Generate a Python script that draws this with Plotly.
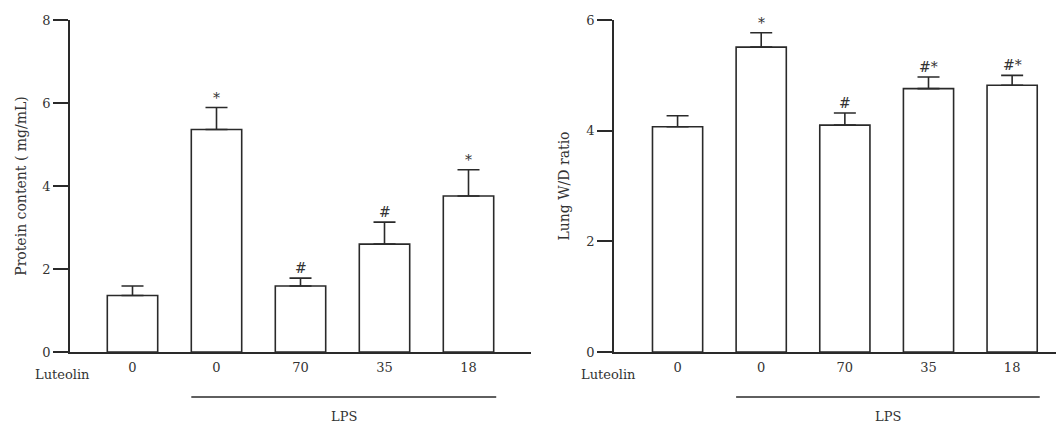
import plotly.graph_objects as go

groups = ["0", "0", "70", "35", "18"]
protein = [1.36, 5.36, 1.59, 2.60, 3.76]
protein_err = [0.23, 0.53, 0.19, 0.53, 0.63]
protein_marks = ["", "*", "#", "#", "*"]
wd_ratio = [4.07, 5.51, 4.10, 4.76, 4.82]
wd_err = [0.20, 0.26, 0.22, 0.21, 0.18]
wd_marks = ["", "*", "#", "#*", "#*"]

FONT = "DejaVu Serif"
INK = "#2a2a2a"
TXT = "#333333"
FS = 14
OFF = 8  # page body margin
W, H = 1064 - OFF, 425 - OFF
ML, MR, MT = 70 - OFF, 0, 20 - OFF
ph = 332
MB = H - MT - ph
pw = W - ML - MR
BOTTOM = 352  # page y of plot bottom

xs = list(range(len(groups)))

fig = go.Figure()

def add_panel(vals, errs, xa, ya):
    fig.add_trace(go.Bar(
        x=xs, y=vals, width=0.6,
        marker=dict(color="white", line=dict(color=INK, width=1.6)),
        error_y=dict(type="data", array=errs, arrayminus=[0] * len(errs),
                     symmetric=False, color=INK, thickness=1.6, width=11),
        xaxis=xa, yaxis=ya, showlegend=False, hoverinfo="skip",
    ))

add_panel(protein, protein_err, "x", "y")
add_panel(wd_ratio, wd_err, "x2", "y2")

left_end = (531 - 70) / pw
right_start = (614 - 70) / pw
x1_range = [-0.744, 4.744]
x2_range = [-0.76, 4.62]

axis_common = dict(showline=True, linecolor=INK, linewidth=1.6, showgrid=False,
                   zeroline=False, tickfont=dict(family=FONT, size=FS - 1, color=TXT))

fig.update_layout(
    width=W, height=H, margin=dict(l=ML, r=MR, t=MT, b=MB),
    paper_bgcolor="white", plot_bgcolor="white",
    xaxis=dict(domain=[0, left_end], range=x1_range, tickvals=xs,
               ticktext=groups, ticks="outside", ticklen=3,
               tickcolor="rgba(0,0,0,0)", anchor="y", **axis_common),
    yaxis=dict(domain=[0, 1], range=[0, 8], tickvals=[0, 2, 4, 6, 8],
               ticks="outside", ticklen=15, tickwidth=1.6, tickcolor=INK,
               anchor="x",
               title=dict(text="Protein content ( mg/mL)",
                          font=dict(family=FONT, size=FS, color=TXT), standoff=12),
               **axis_common),
    xaxis2=dict(domain=[right_start, 1], range=x2_range, tickvals=xs,
                ticktext=groups, ticks="outside", ticklen=3,
                tickcolor="rgba(0,0,0,0)", anchor="y2", **axis_common),
    yaxis2=dict(domain=[0, 1], range=[0, 6], tickvals=[0, 2, 4, 6],
                ticks="outside", ticklen=15, tickwidth=1.6, tickcolor=INK,
                anchor="x2",
                title=dict(text="Lung W/D ratio",
                           font=dict(family=FONT, size=FS, color=TXT), standoff=13),
                **axis_common),
)

line_y = -(397 - BOTTOM) / ph
lps_y = -(416 - BOTTOM) / ph
tick_y = -(374 - BOTTOM) / ph

panels = [("x", "y", protein, protein_err, protein_marks, [0, left_end], x1_range),
          ("x2", "y2", wd_ratio, wd_err, wd_marks, [right_start, 1], x2_range)]

for xa, ya, vals, errs, marks, dom, rng in panels:
    # Luteolin label (paper coords derived from data position)
    frac = (-0.83 - rng[0]) / (rng[1] - rng[0])
    px = dom[0] + frac * (dom[1] - dom[0])
    fig.add_annotation(x=px, y=tick_y, xref="paper", yref="paper", text="Luteolin",
                       showarrow=False, yanchor="middle", xanchor="center",
                       font=dict(family=FONT, size=FS - 1, color=TXT))
    # LPS bracket line
    fig.add_shape(type="line", xref=xa, yref="paper", x0=0.7, x1=4.33,
                  y0=line_y, y1=line_y, line=dict(color=INK, width=1.6))
    fig.add_annotation(x=(0.7 + 4.33) / 2, y=lps_y, xref=xa, yref="paper",
                       text="LPS", showarrow=False, yanchor="middle",
                       font=dict(family=FONT, size=FS - 1, color=TXT))
    # significance marks
    for i, m in enumerate(marks):
        if m:
            fig.add_annotation(x=i, y=vals[i] + errs[i], xref=xa, yref=ya,
                               text=m, showarrow=False, yanchor="bottom", yshift=0,
                               font=dict(family=FONT, size=FS, color=TXT))

fig.write_html("out.html")
